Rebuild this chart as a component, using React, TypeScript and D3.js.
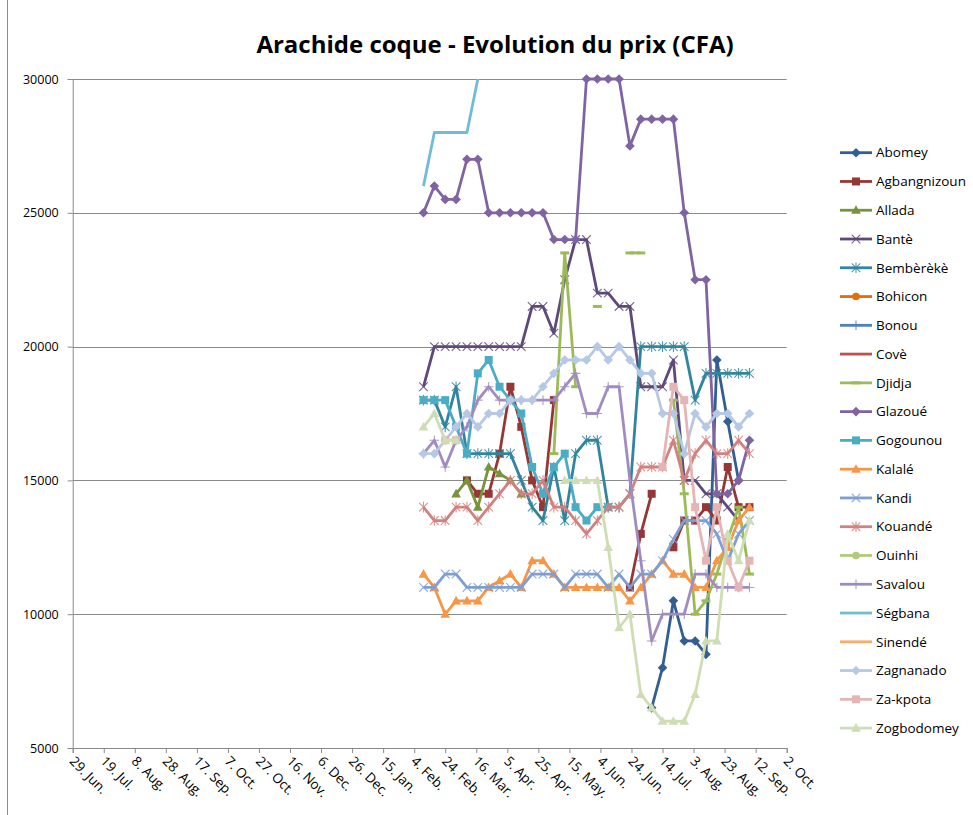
import React, { useEffect, useRef } from 'react';
import * as d3 from 'd3';

const W = 973;
const H = 815;

// time frame of the x axis and first weekly observation
const axisStart = new Date(2010, 5, 29);
const axisEnd = new Date(2011, 9, 2);
const firstWeek = new Date(2011, 1, 10);
const yTicks = [5000, 10000, 15000, 20000, 25000, 30000];

const _ = null;
// weekly prices (CFA), one entry per week from firstWeek
const abomey = [_, _, _, _, _, _, _, _, _, _, _, _, _, _, _, _, _, _, _, _, _, 6500, 8000, 10500, 9000, 9000, 8500, 19500, 17200, 15000, _];
const agbangnizoun = [_, _, _, _, 15000, 14500, 14500, 16000, 18500, 17000, 15000, 14000, 18000, _, _, _, _, _, _, 11000, 13000, 14500, _, 12500, 13500, 13500, 14000, 13500, 15500, 14000, 14000];
const allada = [_, _, _, 14500, 15000, 14000, 15500, 15250, 15000, 14500];
const bante = [18500, 20000, 20000, 20000, 20000, 20000, 20000, 20000, 20000, 20000, 21500, 21500, 20500, 22500, 24000, 24000, 22000, 22000, 21500, 21500, 18500, 18500, 18500, 19500, 15000, 15000, 14500, 14500, 14000, 13500, _];
const bembereke = [18000, 18000, 17000, 18500, 16000, 16000, 16000, 16000, 16000, 15000, 14000, 13500, 15500, 13500, 16000, 16500, 16500, 14000, 14000, 14500, 20000, 20000, 20000, 20000, 20000, 18000, 19000, 19000, 19000, 19000, 19000];
const bohicon: (number | null)[] = [];
const bonou: (number | null)[] = [];
const cove: (number | null)[] = [];
const djidja = [_, _, _, _, _, _, _, _, _, _, _, _, 16000, 23500, 18500, _, 21500, _, _, 23500, 23500, _, _, 18000, 14500, 10000, 10500, 11500, 12800, 14000, 11500];
const glazoue = [25000, 26000, 25500, 25500, 27000, 27000, 25000, 25000, 25000, 25000, 25000, 25000, 24000, 24000, 24000, 30000, 30000, 30000, 30000, 27500, 28500, 28500, 28500, 28500, 25000, 22500, 22500, 14500, 14500, 15000, 16500];
const gogounou = [18000, 18000, 18000, 17000, 16000, 19000, 19500, 18500, 18000, 17500, 15500, 14500, 15500, 16000, 14000, 13500, 14000, 14000];
const kalale = [11500, 11000, 10000, 10500, 10500, 10500, 11000, 11250, 11500, 11000, 12000, 12000, 11500, 11000, 11000, 11000, 11000, 11000, 11000, 10500, 11000, 11500, 12000, 11500, 11500, 11000, 11000, 12000, 12500, 13500, 14000];
const kandi = [11000, 11000, 11500, 11500, 11000, 11000, 11000, 11000, 11000, 11000, 11500, 11500, 11500, 11000, 11500, 11500, 11500, 11000, 11500, 11000, 11500, 11500, 12000, 12800, 13500, 13500, 13500, 13000, 12000, 13000, 13500];
const kouande = [14000, 13500, 13500, 14000, 14000, 13500, 14000, 14500, 15000, 14500, 14500, 15000, 14000, 14000, 13500, 13000, 13500, 14000, 14000, 14500, 15500, 15500, 15500, 16500, 15000, 16000, 16500, 16000, 16000, 16500, 16000];
const ouinhi: (number | null)[] = [];
const savalou = [16000, 16500, 15500, 16500, 17000, 18000, 18500, 18000, 18000, 18000, 18000, 18000, 18000, 18500, 19000, 17500, 17500, 18500, 18500, 15000, 12000, 9000, 10000, 10000, 10000, 11500, 11500, 11000, 11000, 11000, 11000];
const segbana = [26000, 28000, 28000, 28000, 28000, 30000];
const sinende: (number | null)[] = [];
const zagnanado = [16000, 16000, 16500, 17000, 17500, 17000, 17500, 17500, 18000, 18000, 18000, 18500, 19000, 19500, 19500, 19500, 20000, 19500, 20000, 19500, 19000, 19000, 17500, 17500, 16000, 17500, 17000, 17500, 17500, 17000, 17500];
const zakpota = [_, _, 16500, 16500, _, _, _, _, _, _, _, _, _, _, _, _, _, _, _, _, _, _, 15500, 18500, 18000, 14000, 12000, 14000, 12000, 11000, 12000];
const zogbodomey = [17000, 17500, 16500, 16500, _, _, _, _, _, _, _, _, _, 15000, 15000, 15000, 15000, 12500, 9500, 10000, 7000, 6500, 6000, 6000, 6000, 7000, 9000, 9000, 13000, 12000, 13500];

const series = [
  { name: 'Abomey', color: '#335E92', marker: 'diamond', values: abomey },
  { name: 'Agbangnizoun', color: '#953735', marker: 'square', values: agbangnizoun },
  { name: 'Allada', color: '#77933C', marker: 'triangle', values: allada },
  { name: 'Bantè', color: '#5F497A', marker: 'x', values: bante },
  { name: 'Bembèrèkè', color: '#31859C', marker: 'star', values: bembereke },
  { name: 'Bohicon', color: '#E46C0A', marker: 'circle', values: bohicon },
  { name: 'Bonou', color: '#4F81BD', marker: 'plus', values: bonou },
  { name: 'Covè', color: '#C0504D', marker: 'none', values: cove },
  { name: 'Djidja', color: '#9BBB59', marker: 'dash', values: djidja },
  { name: 'Glazoué', color: '#8064A2', marker: 'diamond', values: glazoue },
  { name: 'Gogounou', color: '#4BACC6', marker: 'square', values: gogounou },
  { name: 'Kalalé', color: '#F79646', marker: 'triangle', values: kalale },
  { name: 'Kandi', color: '#7F9ED2', marker: 'x', values: kandi },
  { name: 'Kouandé', color: '#D1817F', marker: 'star', values: kouande },
  { name: 'Ouinhi', color: '#B0CB7E', marker: 'circle', values: ouinhi },
  { name: 'Savalou', color: '#A08CC0', marker: 'plus', values: savalou },
  { name: 'Ségbana', color: '#6FBCD5', marker: 'none', values: segbana },
  { name: 'Sinendé', color: '#F9AC6E', marker: 'none', values: sinende },
  { name: 'Zagnanado', color: '#B5C9E4', marker: 'diamond', values: zagnanado },
  { name: 'Za-kpota', color: '#E3B5B4', marker: 'square', values: zakpota },
  { name: 'Zogbodomey', color: '#CEDDB4', marker: 'triangle', values: zogbodomey },
];

const FONT = '"Open Sans", "DejaVu Sans", sans-serif';

function drawMarker(g: any, type: string, color: string, cx: number, cy: number) {
  if (type === 'none') return;
  if (type === 'diamond') {
    const r = 4.8;
    g.append('path').attr('d', `M${cx},${cy - r}L${cx + r},${cy}L${cx},${cy + r}L${cx - r},${cy}Z`).attr('fill', color);
  } else if (type === 'square') {
    g.append('rect').attr('x', cx - 4).attr('y', cy - 4).attr('width', 8).attr('height', 8).attr('fill', color);
  } else if (type === 'triangle') {
    g.append('path').attr('d', `M${cx},${cy - 5}L${cx + 4.8},${cy + 3.6}L${cx - 4.8},${cy + 3.6}Z`).attr('fill', color);
  } else if (type === 'circle') {
    g.append('circle').attr('cx', cx).attr('cy', cy).attr('r', 3.8).attr('fill', color);
  } else if (type === 'dash') {
    g.append('line').attr('x1', cx - 4.5).attr('x2', cx + 4.5).attr('y1', cy).attr('y2', cy)
      .attr('stroke', color).attr('stroke-width', 3);
  } else {
    const r = 4.3;
    const p = d3.path();
    if (type === 'x' || type === 'star') {
      p.moveTo(cx - r, cy - r); p.lineTo(cx + r, cy + r);
      p.moveTo(cx - r, cy + r); p.lineTo(cx + r, cy - r);
    }
    if (type === 'star') {
      p.moveTo(cx, cy - r - 1); p.lineTo(cx, cy + r + 1);
    }
    if (type === 'plus') {
      p.moveTo(cx - r - 0.5, cy); p.lineTo(cx + r + 0.5, cy);
      p.moveTo(cx, cy - r - 0.5); p.lineTo(cx, cy + r + 0.5);
    }
    g.append('path').attr('d', p.toString()).attr('fill', 'none')
      .attr('stroke', color).attr('stroke-width', 1.1).attr('opacity', 0.85);
  }
}

const PriceChart = () => {
  const svgRef = useRef<SVGSVGElement>(null);

  useEffect(() => {
    const svg = d3.select(svgRef.current);
    svg.selectAll('*').remove();

    const x = d3.scaleTime().domain([axisStart, axisEnd]).range([72.7, 786.7]);
    const y = d3.scaleLinear().domain([5000, 30000]).range([748, 79]);

    svg.append('rect').attr('width', W).attr('height', H).attr('fill', '#fff');
    svg.append('line').attr('x1', 7.5).attr('x2', 7.5).attr('y1', 0).attr('y2', H)
      .attr('stroke', '#8c8c8c').attr('stroke-width', 1);

    // title
    svg.append('text')
      .attr('x', 495).attr('y', 53)
      .attr('text-anchor', 'middle')
      .style('font-family', FONT).style('font-size', '24px').style('font-weight', 'bold')
      .text('Arachide coque - Evolution du prix (CFA)');

    // gridlines
    const grid = svg.append('g');
    yTicks.forEach(t => {
      grid.append('line')
        .attr('x1', x.range()[0]).attr('x2', x.range()[1])
        .attr('y1', Math.round(y(t)) + 0.5).attr('y2', Math.round(y(t)) + 0.5)
        .attr('stroke', '#8a8a8a').attr('stroke-width', 1);
    });

    // y axis
    const yAxis = svg.append('g')
      .attr('transform', `translate(${x.range()[0]},0)`)
      .call(d3.axisLeft(y).tickValues(yTicks).tickSize(5).tickPadding(9).tickFormat(d3.format('d')) as any);
    yAxis.select('.domain').attr('stroke', '#8a8a8a');
    yAxis.selectAll('.tick line').attr('stroke', '#8a8a8a');
    yAxis.selectAll('text').style('font-family', FONT).style('font-size', '12.5px').attr('fill', '#000');

    // x axis
    const xTicks = d3.timeDay.range(axisStart, d3.timeDay.offset(axisEnd, 1), 20);
    const fmt = d3.timeFormat('%-d. %b.');
    const xAxis = svg.append('g')
      .attr('transform', `translate(0,${y(5000)})`)
      .call(d3.axisBottom(x).tickValues(xTicks).tickSize(5).tickFormat(() => '') as any);
    xAxis.select('.domain').attr('stroke', '#8a8a8a');
    xAxis.selectAll('.tick line').attr('stroke', '#8a8a8a');

    svg.append('g').selectAll('text')
      .data(xTicks)
      .enter()
      .append('text')
      .attr('transform', d => `translate(${x(d) - 4},${y(5000) + 14}) rotate(45)`)
      .attr('text-anchor', 'start')
      .style('font-family', FONT).style('font-size', '13.5px')
      .text(d => fmt(d));

    // series
    const date = (i: number) => d3.timeDay.offset(firstWeek, 7 * i);
    const plot = svg.append('g');
    series.forEach(s => {
      const pts = s.values.map((v, i) => ({ d: date(i), v }));
      const line = d3.line<{ d: Date; v: number | null }>()
        .defined(p => p.v != null)
        .x(p => x(p.d))
        .y(p => y(p.v as number));
      const g = plot.append('g');
      g.append('path')
        .attr('d', line(pts))
        .attr('fill', 'none')
        .attr('stroke', s.color)
        .attr('stroke-width', 2.8)
        .attr('stroke-linejoin', 'round');
      pts.filter(p => p.v != null).forEach(p => drawMarker(g, s.marker, s.color, x(p.d), y(p.v as number)));
    });

    // legend
    const legend = svg.append('g');
    series.forEach((s, i) => {
      const ly = 152.7 + i * 28.77;
      legend.append('line').attr('x1', 840).attr('x2', 872).attr('y1', ly).attr('y2', ly)
        .attr('stroke', s.color).attr('stroke-width', 2.8);
      drawMarker(legend, s.marker, s.color, 856, ly);
      legend.append('text')
        .attr('x', 876).attr('y', ly).attr('dy', '0.35em')
        .style('font-family', FONT).style('font-size', '13.5px')
        .text(s.name);
    });
  }, []);

  return (
    <svg ref={svgRef} width={W} height={H} style={{ position: 'absolute', left: 0, top: 0 }}></svg>
  );
};

export default function App() {
  return <PriceChart />;
}
